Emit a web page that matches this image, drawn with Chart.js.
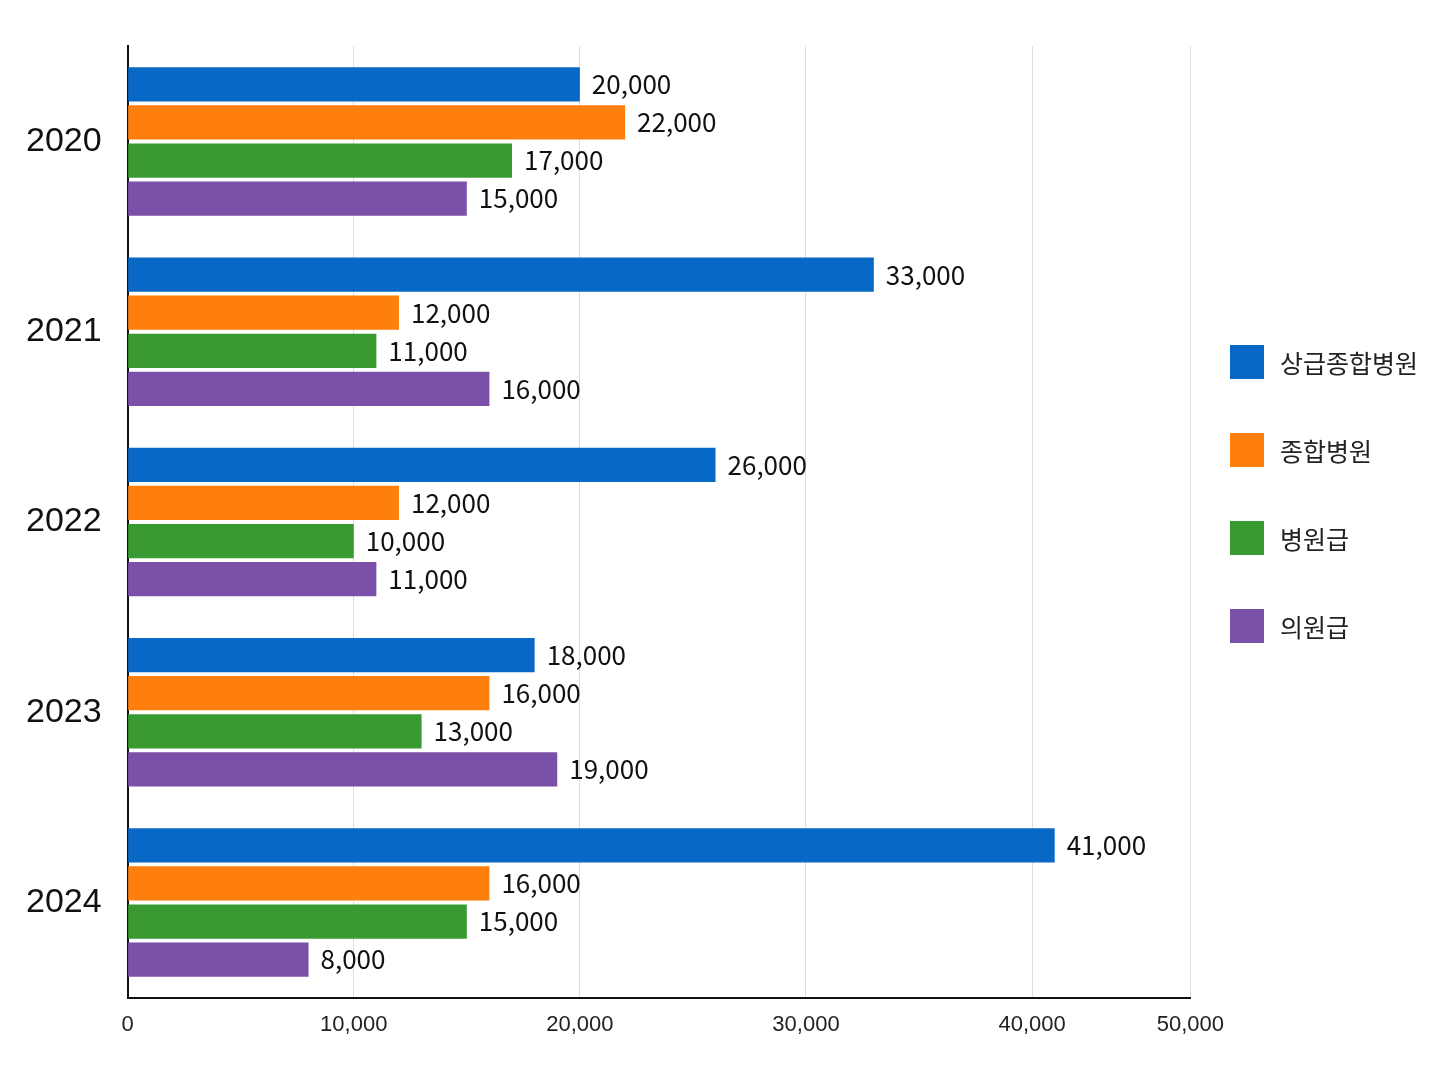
<!DOCTYPE html>
<html><head><meta charset="utf-8">
<script src="https://cdn.jsdelivr.net/npm/chart.js@4.4.1/dist/chart.umd.min.js"></script>
<style>
body{margin:0;background:#fff;font-family:"Noto Sans CJK KR","Noto Sans",sans-serif}
#wrap{position:absolute;left:0;top:0;width:1238px;height:1052px}
#legend{position:absolute;left:1230px;top:345px}
.li{display:flex;align-items:center;height:34px;margin-bottom:54px;font-size:25px;color:#222}
.sw{width:34px;height:34px;margin-right:16px}
</style></head><body>
<div id="wrap"><canvas id="c"></canvas></div>
<div id="legend"></div>
<script>
const years = ['2020','2021','2022','2023','2024'];
const seriesNames = ['상급종합병원','종합병원','병원급','의원급'];
const colors = ['#0868c6','#ff7f0e','#3a9a32','#7b50a8'];
const tier1 = [20000,33000,26000,18000,41000];
const general = [22000,12000,12000,16000,16000];
const hospital = [17000,11000,10000,13000,15000];
const clinic = [15000,16000,11000,19000,8000];
const tickValues = [0,10000,20000,30000,40000,47000];
const tickLabels = ['0','10,000','20,000','30,000','40,000','50,000'];

const values = [tier1, general, hospital, clinic];
document.getElementById('legend').innerHTML = seriesNames.map((n,i)=>
  `<div class="li"><div class="sw" style="background:${colors[i]}"></div>${n}</div>`).join('');

const labelPlugin = {
  id:'lbl',
  afterDatasetsDraw(chart){
    const ctx = chart.ctx;
    ctx.save();
    ctx.font = '26px "Noto Sans CJK KR"';
    ctx.fillStyle = '#111';
    ctx.textBaseline = 'middle';
    chart.data.datasets.forEach((ds,di)=>{
      chart.getDatasetMeta(di).data.forEach((bar,i)=>{
        ctx.fillText(ds.data[i].toLocaleString('en-US'), bar.x+12, bar.y);
      });
    });
    ctx.restore();
  }
};

new Chart(document.getElementById('c'), {
  type:'bar',
  data:{labels:years, datasets:seriesNames.map((n,i)=>({label:n,data:values[i],backgroundColor:colors[i],categoryPercentage:0.8,barPercentage:0.9}))},
  options:{
    indexAxis:'y', responsive:true, maintainAspectRatio:false, animation:false,
    layout:{padding:{top:2,right:20,bottom:0,left:0}},
    plugins:{legend:{display:false},tooltip:{enabled:false}},
    scales:{
      x:{min:0,max:47000,
        afterBuildTicks(ax){ax.ticks = tickValues.map(v=>({value:v}));},
        ticks:{color:'#222',font:{size:22},padding:14,autoSkip:false,maxRotation:0,
          callback:(v,i)=>tickLabels[i]},
        grid:{color:'#ddd',drawTicks:false},
        border:{color:'#111',width:2}
      },
      y:{ticks:{color:'#111',font:{size:34},padding:26},
        grid:{display:false,drawTicks:false},
        border:{color:'#111',width:2}}
    }
  },
  plugins:[labelPlugin]
});
</script>
</body></html>
